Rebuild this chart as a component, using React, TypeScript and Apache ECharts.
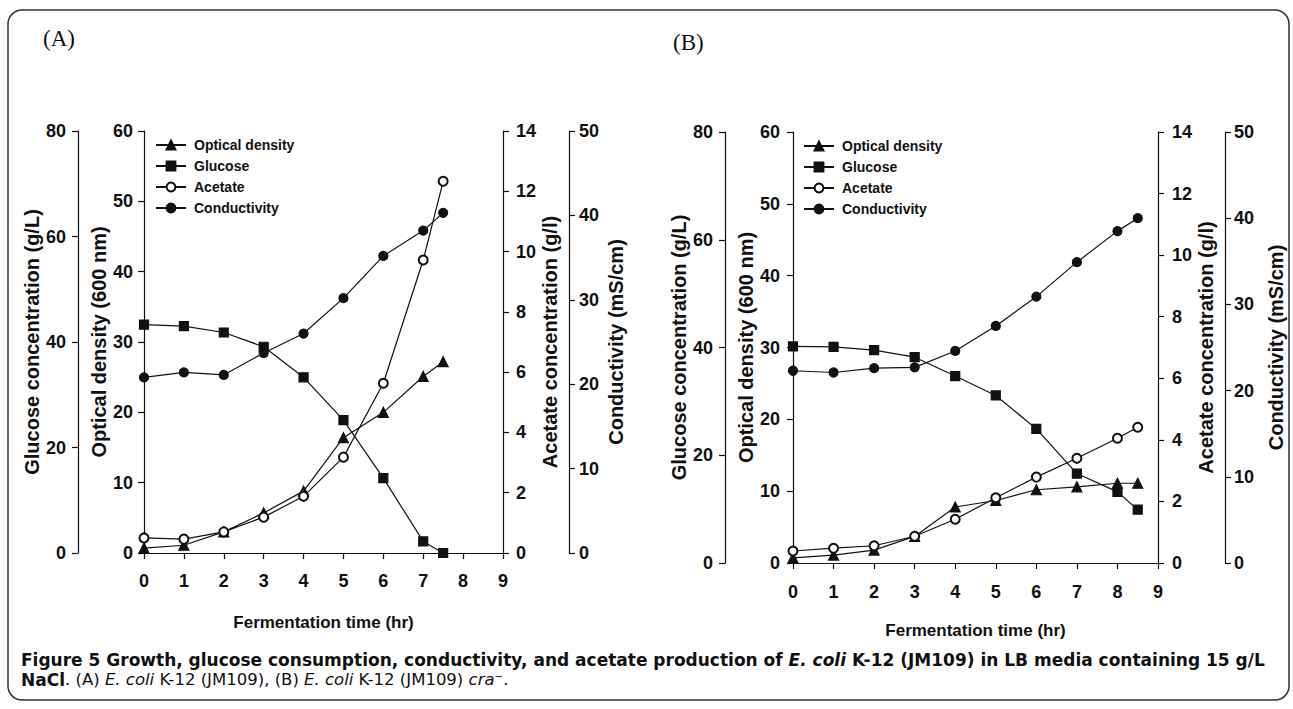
import React, { useEffect, useRef } from "react";
import * as echarts from "echarts";

// ---------- Data ----------
const hoursA = [0, 1, 2, 3, 4, 5, 6, 7, 7.5];
const odA = [0.7, 1.1, 3.0, 5.7, 8.8, 16.4, 20.0, 25.1, 27.2];
const glucoseA = [43.3, 43.0, 41.8, 39.1, 33.3, 25.2, 14.2, 2.2, 0];
const acetateA = [0.5, 0.46, 0.7, 1.19, 1.88, 3.18, 5.63, 9.72, 12.33];
const conductivityA = [20.8, 21.4, 21.1, 23.7, 26.0, 30.2, 35.2, 38.2, 40.3];

const hoursB = [0, 1, 2, 3, 4, 5, 6, 7, 8, 8.5];
const odB = [0.7, 1.1, 1.8, 3.7, 7.8, 8.7, 10.2, 10.6, 11.1, 11.1];
const glucoseB = [40.2, 40.1, 39.5, 38.2, 34.7, 31.1, 24.9, 16.6, 13.2, 9.9];
const acetateB = [0.39, 0.48, 0.56, 0.87, 1.42, 2.12, 2.79, 3.4, 4.05, 4.41];
const conductivityB = [22.3, 22.1, 22.6, 22.7, 24.6, 27.5, 30.9, 34.9, 38.5, 40.0];

const seriesNames = ["Optical density", "Glucose", "Acetate", "Conductivity"];
const seriesSymbols = ["triangle", "rect", "emptyCircle", "circle"];

const xTitle = "Fermentation time (hr)";
const glucoseTitle = "Glucose concentration (g/L)";
const odTitle = "Optical density (600 nm)";
const acetateTitle = "Acetate concentration (g/l)";
const condTitle = "Conductivity (mS/cm)";

const captionLine1a = "Figure 5 Growth, glucose consumption, conductivity, and acetate production of ";
const captionLine1b = "E. coli";
const captionLine1c = " K-12 (JM109) in LB media containing 15 g/L";

const FONT = "'Liberation Sans', Arial, Helvetica, sans-serif";
const CAPTION_FONT = "'DejaVu Sans', Verdana, sans-serif";
const INK = "#111";

const tickText = { fontFamily: FONT, fontWeight: "bold" as const, fontSize: 18, color: INK };
const yTitleText = { fontFamily: FONT, fontWeight: "bold" as const, fontSize: 20, color: INK };
const xTitleText = { fontFamily: FONT, fontWeight: "bold" as const, fontSize: 17, color: INK };

function yAxis(
  grid: number,
  position: "left" | "right",
  offset: number,
  max: number,
  interval: number,
  name: string,
  nameGap: number,
  labelMargin: number
) {
  return {
    type: "value",
    gridIndex: grid,
    position,
    offset,
    min: 0,
    max,
    interval,
    name,
    nameLocation: "middle",
    nameGap,
    nameTextStyle: yTitleText,
    axisLine: { show: true, onZero: false, lineStyle: { color: INK, width: 1.2 } },
    axisTick: { show: true, inside: false, length: 6, lineStyle: { color: INK, width: 1.2 } },
    axisLabel: { ...tickText, margin: labelMargin },
    splitLine: { show: false },
  };
}

function xAxis(grid: number, nameGap: number, labelMargin: number) {
  return {
    type: "value",
    gridIndex: grid,
    min: 0,
    max: 9,
    interval: 1,
    name: xTitle,
    nameLocation: "middle",
    nameGap,
    nameTextStyle: xTitleText,
    axisLine: { show: true, onZero: false, lineStyle: { color: INK, width: 1.2 } },
    axisTick: { show: true, inside: false, length: 6, lineStyle: { color: INK, width: 1.2 } },
    axisLabel: { ...tickText, margin: labelMargin },
    splitLine: { show: false },
  };
}

function lineSeries(
  name: string,
  symbol: string,
  hours: number[],
  values: number[],
  xAxisIndex: number,
  yAxisIndex: number
) {
  return {
    type: "line",
    name,
    xAxisIndex,
    yAxisIndex,
    data: hours.map((h, i) => [h, values[i]]),
    symbol,
    symbolSize: symbol === "triangle" ? 10 : 9,
    showAllSymbol: true,
    lineStyle: { color: INK, width: 1.2 },
    itemStyle: { color: INK, borderColor: INK, borderWidth: 1.2 },
    emphasis: { disabled: true },
    z: 3,
  };
}

function legend(left: number, top: number) {
  return {
    show: true,
    orient: "vertical",
    left,
    top,
    padding: 0,
    itemWidth: 30,
    itemHeight: 11,
    itemGap: 7,
    data: seriesNames,
    textStyle: { fontFamily: FONT, fontWeight: "bold", fontSize: 14, color: INK, padding: [0, 0, 0, 3] },
    selectedMode: false,
  };
}

export default function App() {
  const ref = useRef<HTMLDivElement>(null);

  useEffect(() => {
    document.body.style.margin = "0";
    if (!ref.current) return;
    const chart = echarts.init(ref.current, undefined, { renderer: "svg" });

    const panelA = [odA, glucoseA, acetateA, conductivityA];
    const panelB = [odB, glucoseB, acetateB, conductivityB];
    // axis index inside a panel: glucose 0, od 1, acetate 2, conductivity 3
    const axisOf = [1, 0, 2, 3];

    const series: any[] = [];
    seriesNames.forEach((n, i) => {
      series.push(lineSeries(n, seriesSymbols[i], hoursA, panelA[i], 0, axisOf[i]));
    });
    seriesNames.forEach((n, i) => {
      series.push(lineSeries(n, seriesSymbols[i], hoursB, panelB[i], 1, 4 + axisOf[i]));
    });

    const serif = "'Liberation Serif', 'Times New Roman', serif";

    const option: any = {
      animation: false,
      backgroundColor: "#fff",
      grid: [
        { left: 144, top: 131, width: 359, height: 422, containLabel: false, outerBoundsMode: "none" },
        { left: 793, top: 132, width: 365, height: 431, containLabel: false, outerBoundsMode: "none" },
      ],
      xAxis: [xAxis(0, 61, 19), xAxis(1, 59, 20)],
      yAxis: [
        yAxis(0, "left", 66, 80, 20, glucoseTitle, 26, 12),
        yAxis(0, "left", 0, 60, 10, odTitle, 35, 11),
        yAxis(0, "right", 0, 14, 2, acetateTitle, 29, 13),
        yAxis(0, "right", 66, 50, 10, condTitle, 37, 10),
        yAxis(1, "left", 68, 80, 20, glucoseTitle, 32, 12),
        yAxis(1, "left", 0, 60, 10, odTitle, 35, 13),
        yAxis(1, "right", 0, 14, 2, acetateTitle, 36, 14),
        yAxis(1, "right", 67, 50, 10, condTitle, 41, 9),
      ],
      legend: [legend(155, 138), legend(803, 139)],
      tooltip: { show: false },
      series,
      graphic: [
        {
          type: "rect",
          silent: true,
          shape: { x: 8, y: 10, width: 1281, height: 690, r: 14 },
          style: { fill: "none", stroke: "#333", lineWidth: 1.5 },
        },
        {
          type: "text",
          left: 43,
          top: 27,
          style: { text: "(A)", fontFamily: serif, fontSize: 23, fill: INK },
        },
        {
          type: "text",
          left: 673,
          top: 31,
          style: { text: "(B)", fontFamily: serif, fontSize: 23, fill: INK },
        },
        {
          type: "text",
          left: 21,
          top: 651,
          style: {
            text:
              "{b|" + captionLine1a + "}{bi|" + captionLine1b + "}{b|" + captionLine1c + "}\n" +
              "{b|NaCl}{r|. (A) }{i|E. coli}{r| K-12 (JM109), (B) }{i|E. coli}{r| K-12 (JM109) }{i|cra⁻}{r|.}",
            fill: INK,
            rich: {
              b: { fontFamily: CAPTION_FONT, fontWeight: "bold", fontSize: 17, lineHeight: 20, fill: INK },
              bi: { fontFamily: CAPTION_FONT, fontWeight: "bold", fontStyle: "italic", fontSize: 17, lineHeight: 20, fill: INK },
              r: { fontFamily: CAPTION_FONT, fontSize: 16.5, lineHeight: 20, fill: INK },
              i: { fontFamily: CAPTION_FONT, fontStyle: "italic", fontSize: 16.5, lineHeight: 20, fill: INK },
            },
          },
        },
      ],
    };

    chart.setOption(option);
    return () => chart.dispose();
  }, []);

  return <div ref={ref} style={{ width: 1293, height: 709 }} />;
}
